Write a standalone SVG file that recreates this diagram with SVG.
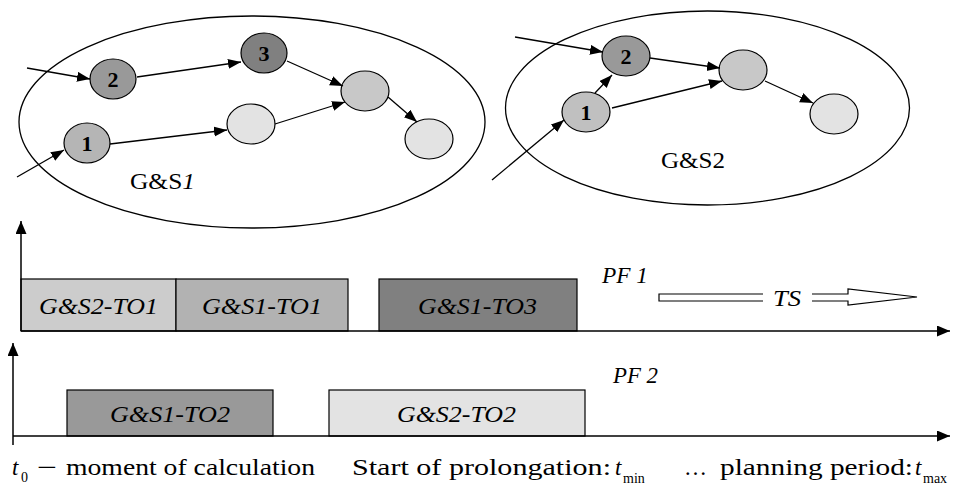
<svg xmlns="http://www.w3.org/2000/svg" width="955" height="488" viewBox="0 0 955 488">
<defs>
<marker id="ah" markerUnits="userSpaceOnUse" markerWidth="14" markerHeight="12" refX="13" refY="5" orient="auto">
<path d="M0,0 L13,5 L0,10 Z" fill="#000"/>
</marker>
<marker id="axh" markerUnits="userSpaceOnUse" markerWidth="14" markerHeight="12" refX="13" refY="5.5" orient="auto">
<path d="M0,0 L13,5.5 L0,11 Z" fill="#000"/>
</marker>
</defs>
<style>
text{font-family:'Liberation Serif','Times New Roman',serif}
.grp{fill:#fff;stroke:#000;stroke-width:1.3}
.nd{stroke:#000;stroke-width:1.2}
.num{font-weight:bold;font-size:22px;text-anchor:middle;fill:#000}
.lbl{font-size:24px;fill:#000}
.it{font-style:italic;font-size:23px;fill:#000}
.bx{stroke:#000;stroke-width:1.2}
.cn{stroke:#000;stroke-width:1.3;fill:none;marker-end:url(#ah)}
.ax{stroke:#000;stroke-width:1.5;fill:none;marker-end:url(#axh)}
.bt{font-size:23px;fill:#000}
.sub{font-size:14px;fill:#000}
</style>
<g font-family="Liberation Serif, Times New Roman, serif">
<g id="gs1">
<ellipse class="grp" cx="252" cy="122" rx="233" ry="106"/>
<text class="lbl" x="130" y="189" textLength="65" lengthAdjust="spacingAndGlyphs">G&amp;S<tspan font-style="italic">1</tspan></text>
</g>
<g id="gs2">
<ellipse class="grp" cx="707.5" cy="108" rx="202" ry="97"/>
<text class="lbl" x="661" y="168" textLength="64" lengthAdjust="spacingAndGlyphs">G&amp;S2</text>
</g>
<g id="gs1-n2"><ellipse class="nd" cx="113" cy="79" rx="23" ry="20" fill="#999"/><text class="num" x="113" y="87">2</text></g>
<g id="gs1-n3"><ellipse class="nd" cx="264" cy="53" rx="23" ry="20" fill="#808080"/><text class="num" x="264" y="61">3</text></g>
<g id="gs1-n1"><ellipse class="nd" cx="87" cy="143" rx="23" ry="20" fill="#b5b5b5"/><text class="num" x="87" y="151">1</text></g>
<g id="gs1-na"><ellipse class="nd" cx="251" cy="124" rx="24" ry="20" fill="#e3e3e3"/></g>
<g id="gs1-nb"><ellipse class="nd" cx="365" cy="91" rx="24" ry="20" fill="#c8c8c8"/></g>
<g id="gs1-nc"><ellipse class="nd" cx="429" cy="139" rx="24" ry="20" fill="#e3e3e3"/></g>
<g id="gs2-n2"><ellipse class="nd" cx="626" cy="56" rx="24" ry="20" fill="#999"/><text class="num" x="626" y="64">2</text></g>
<g id="gs2-n1"><ellipse class="nd" cx="586" cy="112" rx="24" ry="20" fill="#c0c0c0"/><text class="num" x="586" y="120">1</text></g>
<g id="gs2-nd"><ellipse class="nd" cx="743" cy="70" rx="24" ry="20" fill="#c8c8c8"/></g>
<g id="gs2-ne"><ellipse class="nd" cx="834" cy="114" rx="24" ry="20" fill="#e3e3e3"/></g>
<g id="connectors">
<line class="cn" x1="27" y1="68" x2="90" y2="79"/>
<line class="cn" x1="17" y1="177" x2="64" y2="150"/>
<line class="cn" x1="137" y1="77" x2="241" y2="62"/>
<line class="cn" x1="287" y1="61" x2="343" y2="86"/>
<line class="cn" x1="110" y1="144" x2="227" y2="130"/>
<line class="cn" x1="275" y1="124" x2="345" y2="102"/>
<line class="cn" x1="388" y1="97" x2="417" y2="122"/>
<line class="cn" x1="515" y1="37" x2="603" y2="52"/>
<line class="cn" x1="492" y1="180" x2="564" y2="120"/>
<line class="cn" x1="595" y1="93" x2="612" y2="75"/>
<line class="cn" x1="650" y1="58" x2="720" y2="68"/>
<line class="cn" x1="612" y1="108" x2="722" y2="81"/>
<line class="cn" x1="765" y1="81" x2="813" y2="103"/>
</g>
<g id="timeline1">
<rect id="b-gs2-to1" class="bx" x="21" y="279" width="155" height="52" fill="#ccc"/>
<rect id="b-gs1-to1" class="bx" x="176" y="279" width="172" height="52" fill="#b2b2b2"/>
<rect id="b-gs1-to3" class="bx" x="379" y="279" width="198" height="52" fill="#808080"/>
<text class="it" x="39" y="314" textLength="119" lengthAdjust="spacingAndGlyphs">G&amp;S2-TO1</text>
<text class="it" x="202" y="314" textLength="120" lengthAdjust="spacingAndGlyphs">G&amp;S1-TO1</text>
<text class="it" x="418" y="314" textLength="119" lengthAdjust="spacingAndGlyphs">G&amp;S1-TO3</text>
<line class="ax" x1="21" y1="331" x2="21" y2="221"/>
<line class="ax" x1="21" y1="331" x2="950" y2="331"/>
<text class="it" x="602" y="283" textLength="46" lengthAdjust="spacingAndGlyphs">PF 1</text>
</g>
<g id="ts-arrow">
<polygon points="659,294 848,294 848,289 917,297 848,305 848,301 659,301" fill="#fff" stroke="#000" stroke-width="1.2"/>
<rect x="763" y="283" width="49" height="27" fill="#fff"/>
<text class="it" x="773" y="306" textLength="28" lengthAdjust="spacingAndGlyphs">TS</text>
</g>
<g id="timeline2">
<rect id="b-gs1-to2" class="bx" x="67" y="390" width="206" height="46" fill="#999"/>
<rect id="b-gs2-to2" class="bx" x="329" y="390" width="256" height="46" fill="#e3e3e3"/>
<text class="it" x="110" y="422" textLength="120" lengthAdjust="spacingAndGlyphs">G&amp;S1-TO2</text>
<text class="it" x="397" y="422" textLength="119" lengthAdjust="spacingAndGlyphs">G&amp;S2-TO2</text>
<line x1="13" y1="445" x2="13" y2="436" stroke="#000" stroke-width="1.5"/>
<line class="ax" x1="13" y1="436" x2="13" y2="343"/>
<line class="ax" x1="13" y1="436" x2="950" y2="436"/>
<text class="it" x="613" y="383" textLength="45" lengthAdjust="spacingAndGlyphs">PF 2</text>
</g>
<g id="bottom-text">
<text class="bt" x="12" y="475" font-style="italic">t</text>
<text class="sub" x="21" y="482">0</text>
<text class="bt" x="37" y="475" textLength="20" lengthAdjust="spacingAndGlyphs">−</text>
<text class="bt" x="66" y="475" textLength="249" lengthAdjust="spacingAndGlyphs">moment of calculation</text>
<text class="bt" x="352" y="475" textLength="259" lengthAdjust="spacingAndGlyphs">Start of prolongation:</text>
<text class="bt" x="615" y="475" font-style="italic">t</text>
<text class="sub" x="623" y="483">min</text>
<text class="bt" x="684" y="475">…</text>
<text class="bt" x="720" y="475" textLength="193" lengthAdjust="spacingAndGlyphs">planning period:</text>
<text class="bt" x="915" y="475" font-style="italic">t</text>
<text class="sub" x="923" y="483">max</text>
</g>
</g>
</svg>
